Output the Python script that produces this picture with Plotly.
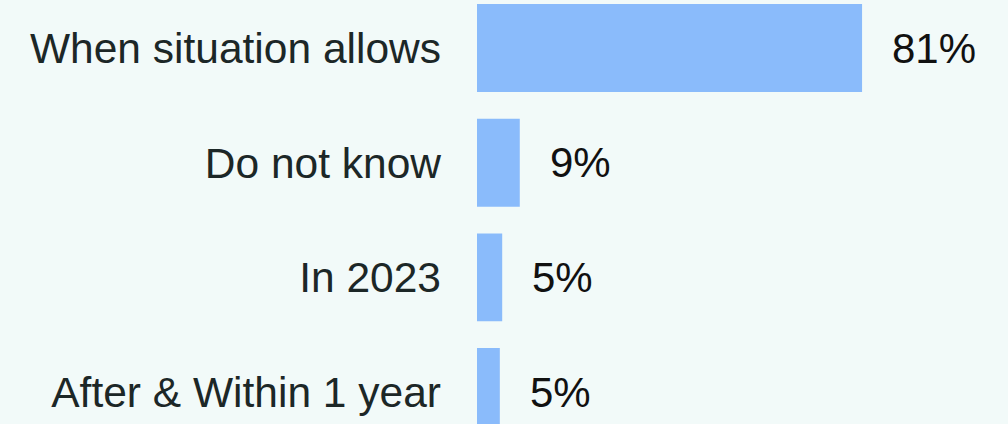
import plotly.graph_objects as go

categories = ["When situation allows", "Do not know", "In 2023", "After & Within 1 year"]
values = [81, 9, 5.3, 4.8]
value_labels = ["81%", "9%", "5%", "5%"]

BG = "#f2faf9"
BAR = "#8abbfb"
FONT = "Arial, Liberation Sans, sans-serif"

fig = go.Figure()
fig.add_trace(go.Bar(
    x=values, y=categories, orientation="h",
    marker=dict(color=BAR, line=dict(width=0)),
    hoverinfo="skip",
))

for v, c, t in zip(values, categories, value_labels):
    fig.add_annotation(
        x=v, y=c, text=t, showarrow=False, xanchor="left", yanchor="middle",
        xshift=28, font=dict(family=FONT, size=42, color="#111111"),
    )

fig.update_layout(
    width=1008, height=424,
    margin=dict(l=477, r=0, t=0, b=0),
    paper_bgcolor=BG, plot_bgcolor=BG,
    bargap=0.233,
    showlegend=False,
    xaxis=dict(range=[0, 111.7], visible=False, showgrid=False, zeroline=False),
    yaxis=dict(
        type="category", categoryorder="array", categoryarray=categories,
        range=[3.279, -0.419], showgrid=False, zeroline=False, showline=False,
        ticks="", ticklabelstandoff=35,
        tickfont=dict(family=FONT, size=42.5, color="#1c2727"),
    ),
)

fig.write_html(
    "out.html",
    config={"displayModeBar": False},
    post_script="document.body.style.margin='0';document.body.style.overflow='hidden';document.body.style.background='" + BG + "';",
)
